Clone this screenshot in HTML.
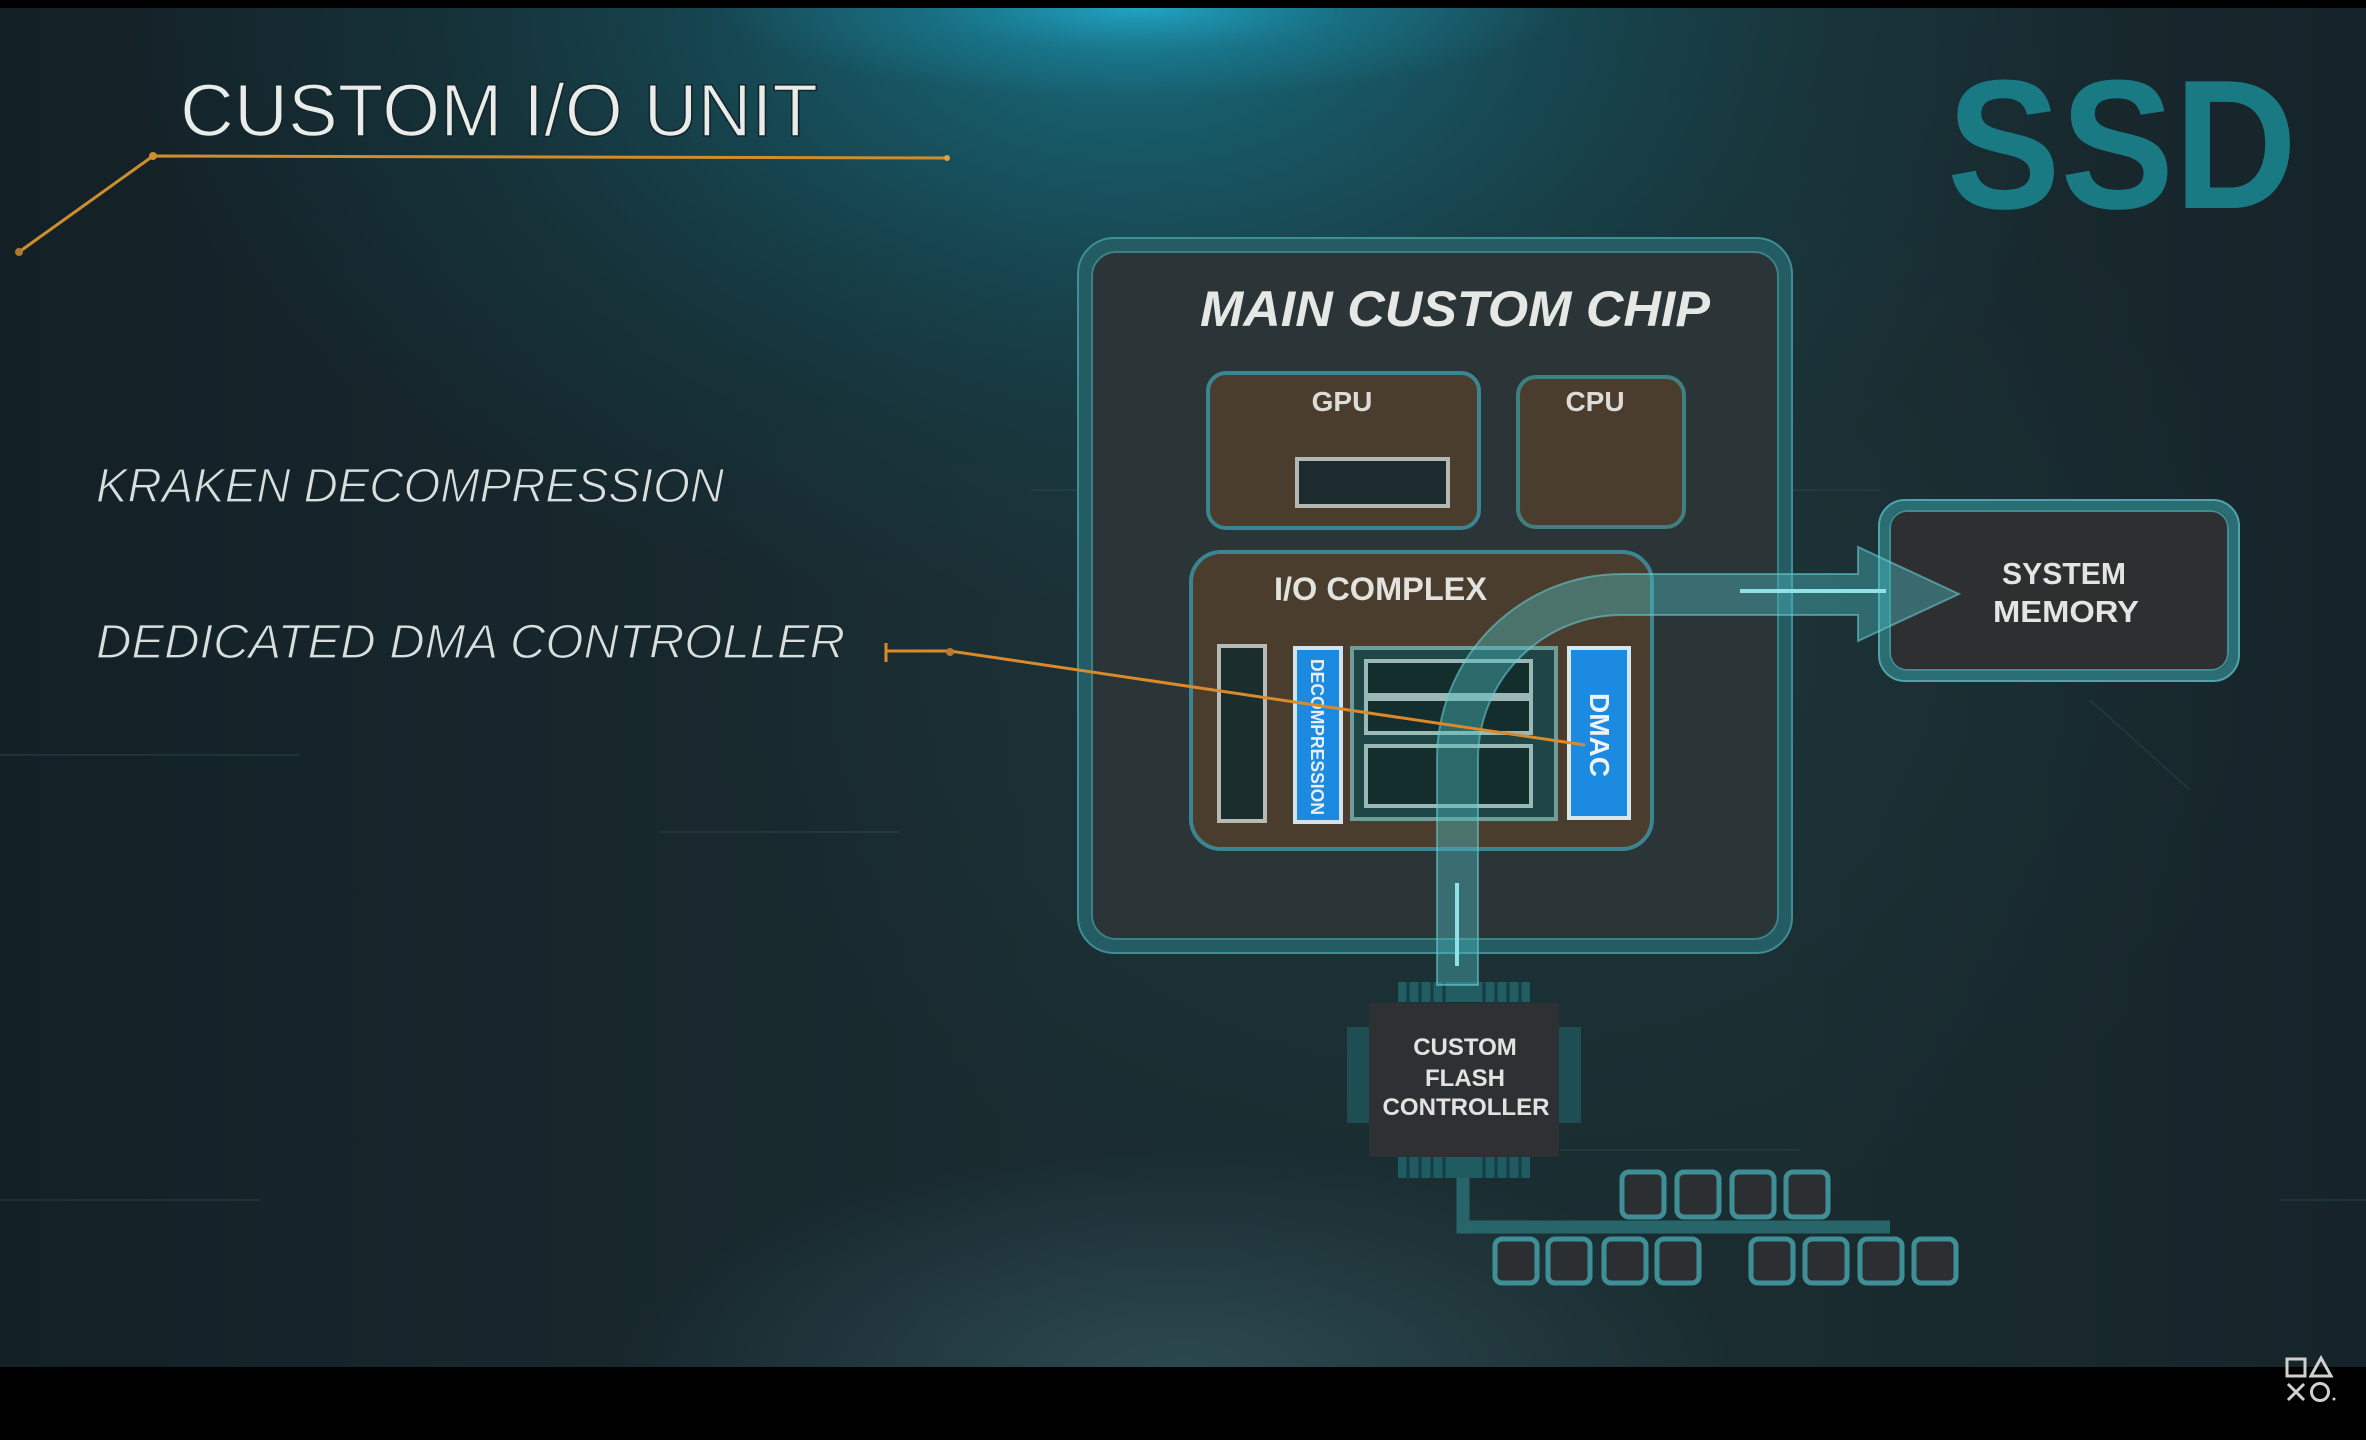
<!DOCTYPE html>
<html><head><meta charset="utf-8"><style>
html,body{margin:0;padding:0;background:#000;}
svg{display:block;}
text{font-family:"Liberation Sans",sans-serif;}
</style></head><body>
<svg width="2366" height="1440" viewBox="0 0 2366 1440" xmlns="http://www.w3.org/2000/svg">
<defs>
 <linearGradient id="bg" x1="0" y1="0" x2="1" y2="0">
  <stop offset="0" stop-color="#132127"/>
  <stop offset="0.45" stop-color="#1a2c31"/>
  <stop offset="0.75" stop-color="#1a2c30"/>
  <stop offset="1" stop-color="#15242a"/>
 </linearGradient>
 <radialGradient id="broadglow" cx="1130" cy="0" r="1" gradientUnits="userSpaceOnUse" gradientTransform="translate(1130 0) scale(1000 620) translate(-1130 0)">
  <stop offset="0" stop-color="#187c90" stop-opacity="0.85"/>
  <stop offset="0.35" stop-color="#156474" stop-opacity="0.6"/>
  <stop offset="0.7" stop-color="#134a55" stop-opacity="0.3"/>
  <stop offset="1" stop-color="#134a55" stop-opacity="0"/>
 </radialGradient>
 <radialGradient id="topglow" cx="1140" cy="8" r="1" gradientUnits="userSpaceOnUse" gradientTransform="translate(1140 8) scale(420 90) translate(-1140 -8)">
  <stop offset="0" stop-color="#22aacb" stop-opacity="0.9"/>
  <stop offset="0.5" stop-color="#1b8ca8" stop-opacity="0.4"/>
  <stop offset="1" stop-color="#1b8ca8" stop-opacity="0"/>
 </radialGradient>
 <radialGradient id="botglow" cx="1180" cy="1370" r="1" gradientUnits="userSpaceOnUse" gradientTransform="translate(1180 1370) scale(560 220) translate(-1180 -1370)">
  <stop offset="0" stop-color="#3a6068" stop-opacity="0.55"/>
  <stop offset="1" stop-color="#3a6068" stop-opacity="0"/>
 </radialGradient>
 <radialGradient id="midglow" cx="1500" cy="650" r="1" gradientUnits="userSpaceOnUse" gradientTransform="translate(1500 650) scale(800 600) translate(-1500 -650)">
  <stop offset="0" stop-color="#1f3b40" stop-opacity="0.6"/>
  <stop offset="1" stop-color="#1f3b40" stop-opacity="0"/>
 </radialGradient>
</defs>

<!-- background -->
<rect x="0" y="0" width="2366" height="1440" fill="url(#bg)"/>
<rect x="0" y="0" width="2366" height="1440" fill="url(#midglow)"/>
<rect x="0" y="0" width="2366" height="1440" fill="url(#broadglow)"/>
<rect x="0" y="0" width="2366" height="1440" fill="url(#topglow)"/>
<rect x="0" y="0" width="2366" height="1440" fill="url(#botglow)"/>
<!-- faint background lines -->
<g stroke="#2c4a50" stroke-width="2" opacity="0.4" fill="none">
 <line x1="1030" y1="490" x2="1080" y2="490"/>
 <line x1="1790" y1="490" x2="1880" y2="490"/>
 <line x1="0" y1="755" x2="300" y2="755"/>
 <line x1="660" y1="832" x2="900" y2="832"/>
 <line x1="0" y1="1200" x2="260" y2="1200"/>
 <line x1="1560" y1="1150" x2="1800" y2="1150"/>
 <line x1="2280" y1="1200" x2="2366" y2="1200"/>
 <line x1="2090" y1="700" x2="2190" y2="790"/>
</g>
<!-- black bars -->
<rect x="0" y="0" width="2366" height="8" fill="#000"/>
<rect x="0" y="1367" width="2366" height="73" fill="#000"/>

<!-- title -->
<text x="180" y="136" font-size="74" fill="#e8ede9" stroke="#16262c" stroke-width="1.6" textLength="638" lengthAdjust="spacingAndGlyphs">CUSTOM I/O UNIT</text>
<g stroke="#cf8e2e" stroke-width="3" fill="none">
 <polyline points="19,252 153,156 947,158"/>
</g>
<circle cx="19" cy="252" r="4" fill="#b07a2a"/>
<circle cx="153" cy="156" r="4" fill="#cf8e2e"/>
<circle cx="947" cy="158" r="3" fill="#e0a040"/>

<!-- left labels -->
<text x="96" y="502" font-size="48" font-style="italic" fill="#d9dfdc" stroke="#16262c" stroke-width="1.2" textLength="628" lengthAdjust="spacingAndGlyphs">KRAKEN DECOMPRESSION</text>
<text x="96" y="658" font-size="48" font-style="italic" fill="#d9dfdc" stroke="#16262c" stroke-width="1.2" textLength="749" lengthAdjust="spacingAndGlyphs">DEDICATED DMA CONTROLLER</text>

<!-- SSD -->
<text x="1947" y="208" font-size="184" font-weight="bold" fill="#1a7a84" textLength="350" lengthAdjust="spacingAndGlyphs">SSD</text>

<!-- main custom chip -->
<rect x="1078" y="238" width="714" height="715" rx="36" fill="#2b3437"/>
<rect x="1085" y="245" width="700" height="701" rx="30" fill="none" stroke="#235f65" stroke-width="15" opacity="0.95"/>
<rect x="1078" y="238" width="714" height="715" rx="36" fill="none" stroke="#3f8e94" stroke-width="2"/>
<rect x="1092" y="252" width="686" height="687" rx="24" fill="none" stroke="#3a8087" stroke-width="2"/>
<text x="1200" y="326" font-size="50" font-weight="bold" font-style="italic" fill="#e6e8e6" textLength="510" lengthAdjust="spacingAndGlyphs">MAIN CUSTOM CHIP</text>

<!-- GPU -->
<rect x="1208" y="373" width="271" height="155" rx="18" fill="#4a3d2e" stroke="#3a8591" stroke-width="4"/>
<text x="1342" y="411" font-size="28" font-weight="bold" fill="#dcdcd8" text-anchor="middle">GPU</text>
<rect x="1297" y="459" width="151" height="47" fill="#1c2b2d" stroke="#b5b8b2" stroke-width="4"/>
<!-- CPU -->
<rect x="1518" y="377" width="166" height="150" rx="18" fill="#4a3d2e" stroke="#3f7f80" stroke-width="4"/>
<text x="1595" y="411" font-size="28" font-weight="bold" fill="#dcdcd8" text-anchor="middle">CPU</text>

<!-- I/O complex -->
<rect x="1191" y="552" width="461" height="297" rx="30" fill="#4a3d2d" stroke="#3a8591" stroke-width="4"/>
<text x="1274" y="600" font-size="32" font-weight="bold" fill="#e2e2de" textLength="213" lengthAdjust="spacingAndGlyphs">I/O COMPLEX</text>
<rect x="1219" y="646" width="46" height="175" fill="#1b2d2d" stroke="#b7bab4" stroke-width="4"/>
<rect x="1295" y="648" width="46" height="174" fill="#1c8ae0" stroke="#d2e2ee" stroke-width="4"/>
<text x="0" y="0" font-size="18" font-weight="bold" fill="#e8eef4" text-anchor="middle" transform="translate(1311 737) rotate(90)" textLength="156" lengthAdjust="spacingAndGlyphs">DECOMPRESSION</text>
<rect x="1352" y="648" width="204" height="171" fill="#1e4646" stroke="#6f9c9b" stroke-width="4"/>
<rect x="1366" y="661" width="165" height="34" fill="#142e2e" stroke="#9bb9b4" stroke-width="4"/>
<rect x="1366" y="699" width="165" height="34" fill="#142e2e" stroke="#9bb9b4" stroke-width="4"/>
<rect x="1366" y="746" width="165" height="60" fill="#142e2e" stroke="#9bb9b4" stroke-width="4"/>
<rect x="1569" y="648" width="60" height="170" fill="#1c8ae0" stroke="#d8e6ee" stroke-width="4"/>
<text x="0" y="0" font-size="28" font-weight="bold" fill="#eef3f6" text-anchor="middle" transform="translate(1590 735) rotate(90)" textLength="84" lengthAdjust="spacingAndGlyphs">DMAC</text>

<!-- system memory -->
<rect x="1879" y="500" width="360" height="181" rx="26" fill="#2e2f31"/>
<rect x="1884" y="505" width="350" height="171" rx="22" fill="none" stroke="#2a6d73" stroke-width="10"/>
<rect x="1879" y="500" width="360" height="181" rx="26" fill="none" stroke="#4ea4aa" stroke-width="2"/>
<rect x="1890" y="511" width="338" height="159" rx="17" fill="none" stroke="#3d8d93" stroke-width="2"/>
<text x="2064" y="584" font-size="31" font-weight="bold" fill="#e4e4e2" text-anchor="middle" textLength="124" lengthAdjust="spacingAndGlyphs">SYSTEM</text>
<text x="2066" y="622" font-size="31" font-weight="bold" fill="#e4e4e2" text-anchor="middle" textLength="146" lengthAdjust="spacingAndGlyphs">MEMORY</text>

<!-- flash controller -->
<g fill="#22646a">
 <rect x="1398" y="982" width="132" height="20" opacity="0.85"/>
 <rect x="1398" y="1157" width="132" height="21" opacity="0.85"/>
 <rect x="1347" y="1027" width="22" height="96" opacity="0.6"/>
 <rect x="1559" y="1027" width="22" height="96" opacity="0.6"/>
</g>
<g stroke="#163d42" stroke-width="3">
 <line x1="1408" y1="982" x2="1408" y2="1002"/><line x1="1420" y1="982" x2="1420" y2="1002"/><line x1="1432" y1="982" x2="1432" y2="1002"/><line x1="1444" y1="982" x2="1444" y2="1002"/><line x1="1484" y1="982" x2="1484" y2="1002"/><line x1="1496" y1="982" x2="1496" y2="1002"/><line x1="1508" y1="982" x2="1508" y2="1002"/><line x1="1520" y1="982" x2="1520" y2="1002"/>
 <line x1="1408" y1="1157" x2="1408" y2="1178"/><line x1="1420" y1="1157" x2="1420" y2="1178"/><line x1="1432" y1="1157" x2="1432" y2="1178"/><line x1="1444" y1="1157" x2="1444" y2="1178"/><line x1="1484" y1="1157" x2="1484" y2="1178"/><line x1="1496" y1="1157" x2="1496" y2="1178"/><line x1="1508" y1="1157" x2="1508" y2="1178"/><line x1="1520" y1="1157" x2="1520" y2="1178"/>
</g>
<rect x="1369" y="1003" width="190" height="154" fill="#2e3133"/>
<text x="1465" y="1055" font-size="24" font-weight="bold" fill="#e2e2e0" text-anchor="middle">CUSTOM</text>
<text x="1465" y="1086" font-size="24" font-weight="bold" fill="#e2e2e0" text-anchor="middle">FLASH</text>
<text x="1466" y="1115" font-size="24" font-weight="bold" fill="#e2e2e0" text-anchor="middle" textLength="167" lengthAdjust="spacingAndGlyphs">CONTROLLER</text>

<!-- flash to NAND connector -->
<polyline points="1463,1178 1463,1227 1890,1227" fill="none" stroke="#2a6c71" stroke-width="13" opacity="0.9"/>

<!-- NAND squares -->
<g fill="#2b2f31" stroke="#3e8f96" stroke-width="5">
 <rect x="1622" y="1172" width="42" height="45" rx="7"/>
 <rect x="1677" y="1172" width="42" height="45" rx="7"/>
 <rect x="1732" y="1172" width="42" height="45" rx="7"/>
 <rect x="1786" y="1172" width="42" height="45" rx="7"/>
 <rect x="1495" y="1239" width="42" height="44" rx="7"/>
 <rect x="1548" y="1239" width="42" height="44" rx="7"/>
 <rect x="1604" y="1239" width="42" height="44" rx="7"/>
 <rect x="1657" y="1239" width="42" height="44" rx="7"/>
 <rect x="1751" y="1239" width="42" height="44" rx="7"/>
 <rect x="1805" y="1239" width="42" height="44" rx="7"/>
 <rect x="1860" y="1239" width="42" height="44" rx="7"/>
 <rect x="1914" y="1239" width="42" height="44" rx="7"/>
</g>

<!-- data pipe arrow -->
<path d="M1437,985 L1437,759 A185,185 0 0 1 1622,574 L1858,574 L1858,547 L1959,594 L1858,641 L1858,615 L1622,615 A144,144 0 0 0 1478,759 L1478,985 Z"
 fill="#4cbcc2" fill-opacity="0.42" stroke="#6fd0d6" stroke-opacity="0.55" stroke-width="2"/>
<line x1="1457" y1="883" x2="1457" y2="966" stroke="#8fe2e8" stroke-width="4"/>
<line x1="1740" y1="591" x2="1886" y2="591" stroke="#8fe2e8" stroke-width="4"/>

<!-- DMA pointer -->
<g stroke="#d98a2a" stroke-width="3" fill="none">
 <line x1="886" y1="643" x2="886" y2="662"/>
 <polyline points="886,651 950,651 1585,745"/>
</g>
<circle cx="950" cy="652" r="4" fill="#b87a30"/>

<!-- PS logo -->
<g stroke="#d0d0cc" stroke-width="3" fill="none">
 <rect x="2287" y="1359" width="18" height="17"/>
 <polygon points="2321,1358 2331,1376 2311,1376"/>
 <line x1="2288" y1="1384" x2="2304" y2="1400"/>
 <line x1="2304" y1="1384" x2="2288" y2="1400"/>
 <circle cx="2320" cy="1392" r="8.5"/>
</g>
<circle cx="2334" cy="1399" r="1.5" fill="#d0d0cc"/>
</svg>
</body></html>
